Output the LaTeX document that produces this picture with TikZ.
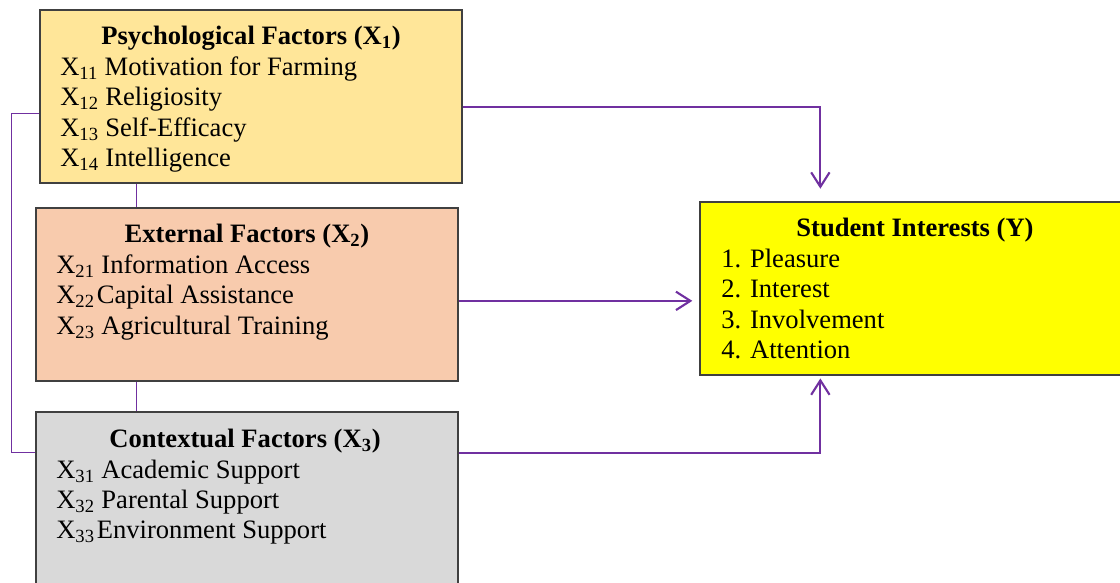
\documentclass[tikz,border=0pt]{standalone}
\usepackage{fontspec}
\setmainfont{Liberation Serif}
\usepackage{xcolor}
\usetikzlibrary{positioning,fit,calc,arrows.meta}

\definecolor{psyfill}{HTML}{FFE699}
\definecolor{extfill}{HTML}{F8CBAD}
\definecolor{ctxfill}{HTML}{D9D9D9}
\definecolor{stufill}{HTML}{FFFF00}
\definecolor{linkpurple}{HTML}{7030A0}

\begin{document}
\begin{tikzpicture}[x=0.025cm,y=-0.025cm,
    box/.style={draw=black!75, line width=0.9pt, inner sep=0pt},
    head/.style={font=\fontsize{18.9}{22}\selectfont\bfseries, anchor=base, inner sep=0pt},
    item/.style={font=\fontsize{18.9}{22}\selectfont, anchor=base west, inner sep=0pt},
    link/.style={draw=linkpurple, line width=0.7pt},
    arr/.style={draw=linkpurple, line width=1.5pt, -{Straight Barb[length=3.6mm,width=4.6mm]}}]
    \clip (0,0) rectangle (1120,583);

    % Boxes
    \node[box, fill=psyfill, fit={(40,10) (462,183)}] (psy) {};
    \node[box, fill=extfill, fit={(36,208) (458,381)}] (ext) {};
    \node[box, fill=ctxfill, fit={(36,412) (458,600)}] (ctx) {};
    \node[box, fill=stufill, fit={(700,202) (1130,375)}] (stu) {};

    % Psychological factors
    \node[head] (psyh) at (251,45) {Psychological Factors (X\textsubscript{1})};
    \foreach \txt [count=\i] in {X\textsubscript{11} Motivation for Farming,
        X\textsubscript{12} Religiosity, X\textsubscript{13} Self-Efficacy,
        X\textsubscript{14} Intelligence}
        \node[item] (psy\i) at (60,{45+30.4*\i}) {\txt};

    % External factors
    \node[head] (exth) at (247,243) {External Factors (X\textsubscript{2})};
    \foreach \txt [count=\i] in {X\textsubscript{21} Information Access,
        X\textsubscript{22}\kern1.5pt Capital Assistance, X\textsubscript{23} Agricultural Training}
        \node[item] (ext\i) at (56,{243+30.5*\i}) {\txt};

    % Contextual factors
    \node[head] (ctxh) at (245,448) {Contextual Factors (X\textsubscript{3})};
    \foreach \txt [count=\i] in {X\textsubscript{31} Academic Support,
        X\textsubscript{32} Parental Support, X\textsubscript{33}\kern1.5pt Environment Support}
        \node[item] (ctx\i) at (56,{448+30.2*\i}) {\txt};

    % Student interests
    \node[head] (stuh) at (915,237) {Student Interests (Y)};
    \foreach \txt [count=\i] in {1. Pleasure, 2. Interest, 3. Involvement, 4. Attention}
        \node[item] (stu\i) at (721,{237+30.4*\i}) {\txt};

    % Links between factors
    \draw[link] ($(psy.south west)+(97,0)$) -- ($(ext.north west)+(101,0)$);
    \draw[link] ($(ext.south west)+(101,0)$) -- ($(ctx.north west)+(101,0)$);
    \draw[link] ($(psy.north west)+(0,104)$) -- ++(-28,0) |- ($(ctx.north west)+(0,41)$);

    % Arrows to Y
    \draw[arr, shorten >=9pt] ($(psy.north east)+(0,98)$) -| ($(stu.north west)+(121,0)$);
    \draw[arr, shorten >=5pt] ($(ext.north east)+(0,93.5)$) -- ($(stu.north west)+(0,99.5)$);
    \draw[arr, shorten >=2pt] ($(ctx.north east)+(0,42)$) -| ($(stu.south west)+(121,0)$);
\end{tikzpicture}
\end{document}
